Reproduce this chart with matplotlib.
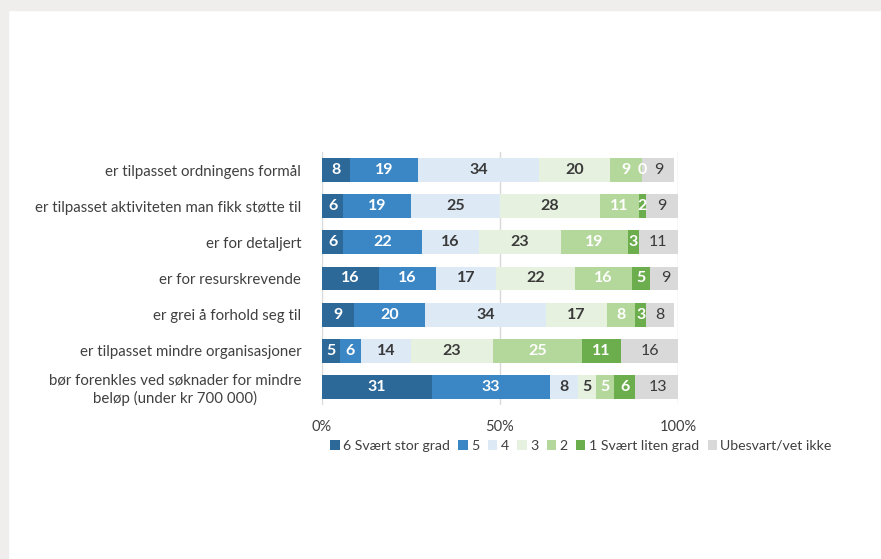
import numpy as np
import matplotlib.pyplot as plt
from matplotlib.patches import Rectangle

plt.rcParams['font.family'] = ['Lato', 'DejaVu Sans']

categories = [
    'er tilpasset ordningens formål',
    'er tilpasset aktiviteten man fikk støtte til',
    'er for detaljert',
    'er for resurskrevende',
    'er grei å forhold seg til',
    'er tilpasset mindre organisasjoner',
    'bør forenkles ved søknader for mindre\nbeløp (under kr 700 000)',
]
series_names = ['6 Svært stor grad', '5', '4', '3', '2', '1 Svært liten grad', 'Ubesvart/vet ikke']
s6 = [8, 6, 6, 16, 9, 5, 31]
s5 = [19, 19, 22, 16, 20, 6, 33]
s4 = [34, 25, 16, 17, 34, 14, 8]
s3 = [20, 28, 23, 22, 17, 23, 5]
s2 = [9, 11, 19, 16, 8, 25, 5]
s1 = [0, 2, 3, 5, 3, 11, 6]
s_ub = [9, 9, 11, 9, 8, 16, 13]
tick_labels = ['0%', '50%', '100%']

colors = ['#2c6898', '#3b87c5', '#ddeaf6', '#e6f1df', '#b4d79b', '#6cae4e', '#d9d9d9']
label_colors = ['white', 'white', '#3a3a3a', '#3a3a3a', 'white', 'white', '#3a3a3a']
label_weights = ['bold', 'bold', 'bold', 'bold', 'bold', 'bold', 'normal']

fig = plt.figure(figsize=(8.81, 5.59), dpi=100)
fig.patches.append(Rectangle((0, 1 - 10 / 559), 1, 10 / 559, transform=fig.transFigure,
                             color='#efeeec', zorder=-1))
fig.patches.append(Rectangle((0, 0), 8 / 881, 1, transform=fig.transFigure,
                             color='#efeeec', zorder=-1))

ax = fig.add_axes([322 / 881, 1 - 405 / 559, 356 / 881, 253 / 559])

data = np.array([s6, s5, s4, s3, s2, s1, s_ub], dtype=float)
y = np.arange(len(categories))
left = np.zeros(len(categories))
for i, name in enumerate(series_names):
    vals = data[i]
    ax.barh(y, vals, left=left, height=0.66, color=colors[i], label=name, zorder=2)
    for j, v in enumerate(vals):
        ax.text(left[j] + v / 2, y[j], f'{int(v)}', ha='center', va='center',
                color=label_colors[i], fontsize=11.5, fontweight=label_weights[i], zorder=3)
    left += vals

ax.set_xlim(0, 100)
ax.set_ylim(len(categories) - 0.5, -0.5)
ax.set_yticks(y)
ax.set_yticklabels(categories, fontsize=10.8, color='#404040', linespacing=1.25,
                   multialignment='center')
ax.set_xticks([0, 50, 100])
ax.set_xticklabels(tick_labels, fontsize=10.5, color='#404040')
ax.tick_params(length=0)
ax.tick_params(axis='x', pad=11)
ax.tick_params(axis='y', pad=15)
for s in ax.spines.values():
    s.set_visible(False)
ax.grid(axis='x', color='#d9d9d9', linewidth=1, zorder=0)

ax.legend(loc='center', bbox_to_anchor=(581 / 881, 1 - 446 / 559), bbox_transform=fig.transFigure,
          ncol=7, frameon=False, fontsize=10.2, handlelength=0.65, handleheight=0.65,
          handletextpad=0.25, columnspacing=0.6, labelcolor='#404040')

fig.savefig('out.png', dpi=100)
